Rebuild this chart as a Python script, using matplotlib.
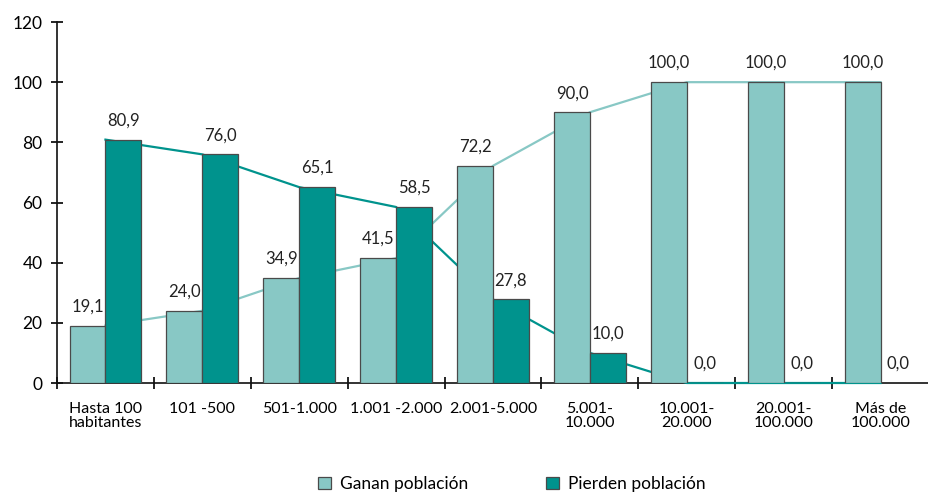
import matplotlib.pyplot as plt
import numpy as np
from matplotlib.patches import Patch

plt.rcParams['font.family'] = ['Lato', 'DejaVu Sans']

categorias = ['Hasta 100\nhabitantes', '101 -500', '501-1.000', '1.001 -2.000', '2.001-5.000',
              '5.001-\n10.000', '10.001-\n20.000', '20.001-\n100.000', 'Más de\n100.000']
ganan = [19.1, 24.0, 34.9, 41.5, 72.2, 90.0, 100.0, 100.0, 100.0]
pierden = [80.9, 76.0, 65.1, 58.5, 27.8, 10.0, 0.0, 0.0, 0.0]

c_ganan = '#88c8c5'
c_pierden = '#00938d'
c_borde = '#4a4a4a'

fig = plt.figure(figsize=(9.29, 4.93), dpi=100)
ax = fig.add_axes([57 / 929, 1 - 383 / 493, 1 - 57 / 929, (383 - 22) / 493])

x = np.arange(len(categorias))
w = 0.37

# barras
ax.bar(x - w / 2, ganan, w, color=c_ganan, edgecolor=c_borde, linewidth=0.9, zorder=3)
ax.bar(x + w / 2, pierden, w, color=c_pierden, edgecolor=c_borde, linewidth=0.9, zorder=3)

# lineas por el centro de cada categoria, por debajo de las barras y encima del eje
ax.plot(x, ganan, color=c_ganan, linewidth=1.6, zorder=2.6, clip_on=False)
ax.plot(x, pierden, color=c_pierden, linewidth=1.6, zorder=2.6, clip_on=False)

for xi, v in zip(x, ganan):
    ax.annotate('{:.1f}'.format(v).replace('.', ','), (xi - w / 2, v), xytext=(0, 8),
                textcoords='offset points', ha='center', va='bottom', fontsize=12, color='#222222')
for xi, v in zip(x, pierden):
    ax.annotate('{:.1f}'.format(v).replace('.', ','), (xi + w / 2, v), xytext=(0, 8),
                textcoords='offset points', ha='center', va='bottom', fontsize=12, color='#222222')

ax.set_xlim(-0.5, len(categorias) - 0.5)
ax.set_ylim(0, 120)
ax.set_yticks(range(0, 121, 20))
ax.set_xticks(np.arange(-0.5, len(categorias) - 0.4, 1))
ax.set_xticklabels([])
ax.set_xticks(x, minor=True)
ax.set_xticklabels(categorias, minor=True, fontsize=11.5, linespacing=0.95)
ax.tick_params(axis='x', which='minor', length=0, pad=14)
ax.tick_params(axis='x', which='major', direction='inout', length=9, width=1.2)
ax.tick_params(axis='y', direction='inout', length=9, width=1.2, labelsize=12.5, pad=6)

for s in ['top', 'right']:
    ax.spines[s].set_visible(False)
for s in ['left', 'bottom']:
    ax.spines[s].set_linewidth(1.2)
    ax.spines[s].set_color('#111111')
    ax.spines[s].set_zorder(2)

handles = [Patch(facecolor=c_ganan, edgecolor=c_borde, linewidth=0.9),
           Patch(facecolor=c_pierden, edgecolor=c_borde, linewidth=0.9)]
fig.legend(handles, ['Ganan población', 'Pierden población'], loc='center',
           bbox_to_anchor=(512 / 929, 1 - 484 / 493), ncol=2, frameon=False, fontsize=12.5,
           handlelength=0.75, handleheight=0.75, handletextpad=0.5, columnspacing=4.5)

plt.savefig('out.png', dpi=100)
